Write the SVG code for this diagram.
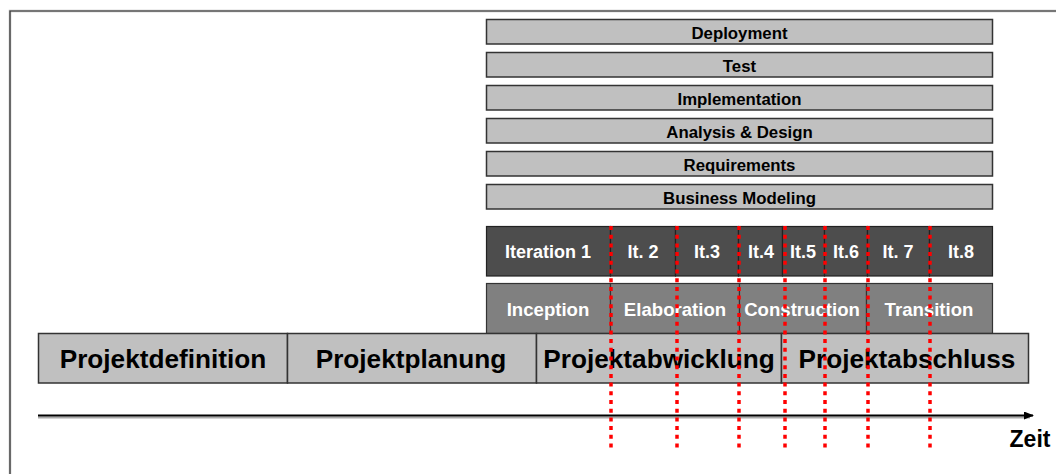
<svg xmlns="http://www.w3.org/2000/svg" width="1056" height="474" viewBox="0 0 1056 474">
<defs>
<style>
.wf{fill:#c0c0c0;stroke:#333;stroke-width:1.5}
.it{fill:#4d4d4d;stroke:#222;stroke-width:1.2}
.ph{fill:#808080;stroke:#333;stroke-width:1.2}
.pr{fill:#c0c0c0;stroke:#333;stroke-width:1.5}
text{font-family:"Liberation Sans",Arial,sans-serif;font-weight:bold;text-anchor:middle}
.t1{font-size:16.8px;fill:#000}
.t2{font-size:18px;fill:#fff}
.t3{font-size:18.6px;fill:#fff}
.t4{font-size:26.2px;fill:#000}
.red{stroke:#ff0000;stroke-width:3.5;stroke-dasharray:4 4.7;fill:none}
</style>
<marker id="arr" markerWidth="10" markerHeight="8" refX="9" refY="4" orient="auto" markerUnits="userSpaceOnUse">
<path d="M0,0 L10,4 L0,8 z" fill="#000"/>
</marker>
</defs>
<rect width="1056" height="474" fill="#fff"/>
<g id="frame">
<path d="M10,474 V11 H1056" fill="none" stroke="#bbb" stroke-width="2.5"/>
<path d="M10,474 V11 H1056" fill="none" stroke="#333" stroke-width="1.2"/>
</g>
<g id="workflows">
<g id="deployment"><rect class="wf" x="486.5" y="19.5" width="506" height="24.5"/><text class="t1" x="739.5" y="38.5">Deployment</text></g>
<g id="test"><rect class="wf" x="486.5" y="52.5" width="506" height="24.5"/><text class="t1" x="739.5" y="71.5">Test</text></g>
<g id="implementation"><rect class="wf" x="486.5" y="85.5" width="506" height="24.5"/><text class="t1" x="739.5" y="104.5">Implementation</text></g>
<g id="analysis"><rect class="wf" x="486.5" y="118.5" width="506" height="24.5"/><text class="t1" x="739.5" y="137.5">Analysis &amp; Design</text></g>
<g id="requirements"><rect class="wf" x="486.5" y="151.5" width="506" height="24.5"/><text class="t1" x="739.5" y="170.5">Requirements</text></g>
<g id="business"><rect class="wf" x="486.5" y="184.5" width="506" height="24.5"/><text class="t1" x="739.5" y="203.5">Business Modeling</text></g>
</g>
<g id="iterations">
<g id="it1"><rect class="it" x="486.5" y="226.5" width="124" height="49.5"/><text class="t2" x="548" y="257.5">Iteration 1</text></g>
<g id="it2"><rect class="it" x="610.5" y="226.5" width="65" height="49.5"/><text class="t2" x="643" y="257.5">It. 2</text></g>
<g id="it3"><rect class="it" x="675.5" y="226.5" width="63" height="49.5"/><text class="t2" x="707" y="257.5">It.3</text></g>
<g id="it4"><rect class="it" x="738.5" y="226.5" width="44" height="49.5"/><text class="t2" x="761" y="257.5">It.4</text></g>
<g id="it5"><rect class="it" x="782.5" y="226.5" width="42" height="49.5"/><text class="t2" x="803" y="257.5">It.5</text></g>
<g id="it6"><rect class="it" x="824.5" y="226.5" width="43" height="49.5"/><text class="t2" x="846" y="257.5">It.6</text></g>
<g id="it7"><rect class="it" x="867.5" y="226.5" width="62" height="49.5"/><text class="t2" x="898" y="257.5">It. 7</text></g>
<g id="it8"><rect class="it" x="929.5" y="226.5" width="63" height="49.5"/><text class="t2" x="961" y="257.5">It.8</text></g>
</g>
<g id="phases">
<g id="inception"><rect class="ph" x="486.5" y="283.5" width="124" height="50"/><text class="t3" x="548" y="316">Inception</text></g>
<g id="elaboration"><rect class="ph" x="610.5" y="283.5" width="129" height="50"/><text class="t3" x="675" y="316">Elaboration</text></g>
<g id="construction"><rect class="ph" x="739.5" y="283.5" width="127" height="50"/><text class="t3" x="802" y="316">Construction</text></g>
<g id="transition"><rect class="ph" x="866.5" y="283.5" width="126" height="50"/><text class="t3" x="929" y="316">Transition</text></g>
</g>
<g id="projectphases">
<g id="projektdefinition"><rect class="pr" x="38.5" y="333.5" width="249" height="49.5"/><text class="t4" x="163" y="367.5">Projektdefinition</text></g>
<g id="projektplanung"><rect class="pr" x="287.5" y="333.5" width="249" height="49.5"/><text class="t4" x="411" y="367.5">Projektplanung</text></g>
<g id="projektabwicklung"><rect class="pr" x="536.5" y="333.5" width="245" height="49.5"/><text class="t4" x="659" y="367.5">Projektabwicklung</text></g>
<g id="projektabschluss"><rect class="pr" x="781.5" y="333.5" width="247" height="49.5"/><text class="t4" x="907" y="367.5">Projektabschluss</text></g>
</g>
<g id="connectors">
<line x1="38" y1="417.5" x2="1030" y2="417.5" stroke="#aaa" stroke-width="2"/>
<line x1="38" y1="415.5" x2="1033" y2="415.5" stroke="#000" stroke-width="2" marker-end="url(#arr)"/>
<line class="red" x1="611" y1="226" x2="611" y2="452"/>
<line class="red" x1="677" y1="226" x2="677" y2="450"/>
<line class="red" x1="739" y1="226" x2="739" y2="452"/>
<line class="red" x1="785" y1="226" x2="785" y2="452"/>
<line class="red" x1="825" y1="226" x2="825" y2="452"/>
<line class="red" x1="868" y1="226" x2="868" y2="452"/>
<line class="red" x1="930" y1="226" x2="930" y2="452"/>
</g>
<text x="1030" y="447" style="font-size:23px;fill:#000">Zeit</text>
</svg>
